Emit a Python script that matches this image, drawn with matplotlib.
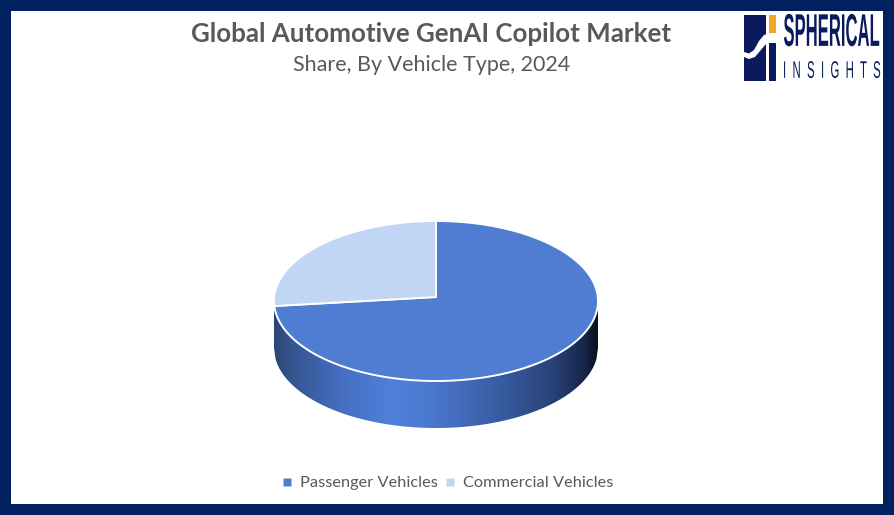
#!/usr/bin/env python
# -*- coding: utf-8 -*-
"""Global Automotive GenAI Copilot Market share, drawn as a tilted 3D style pie"""
import numpy as np
import matplotlib
matplotlib.use('Agg')
import matplotlib.pyplot as plt
import matplotlib.patheffects as pe
from matplotlib.colors import LinearSegmentedColormap
from matplotlib.lines import Line2D
from matplotlib.patches import Polygon, Rectangle
from matplotlib.transforms import Affine2D

TITLE = 'Global Automotive GenAI Copilot Market'
SUBTITLE = 'Share, By Vehicle Type, 2024'
CATEGORIES = ['Passenger Vehicles', 'Commercial Vehicles']
SHARES = [74, 26]
COLOURS = ['#4e7dd2', '#c1d5f5']

NAVY = '#002060'
LOGO = '#0a1a5c'
GREY = '#595959'

# pie geometry in pixels
CX, CY, RX, RY = 436, 301, 162, 80
APEX_Y = 297
DEPTH = 47
HEIGHT = 515


class Stretch(pe.AbstractPathEffect):
    """Stretch a text about a pixel position, for the tall logo lettering"""

    def __init__(self, sy, x0, y0):
        super().__init__()
        self.sy = sy
        self.x0 = x0
        self.y0 = HEIGHT - y0

    def draw_path(self, renderer, gc, tpath, affine, rgbFace=None):
        tall = Affine2D().translate(-self.x0, -self.y0).scale(1, self.sy).translate(self.x0, self.y0)
        renderer.draw_path(gc, tpath, affine + tall, rgbFace)


def rim(t):
    return CX + RX * np.sin(t), CY - RY * np.cos(t)


def draw_pie(ax):
    # side wall, shaded left to right
    xs = np.linspace(CX - RX, CX + RX, 200)
    front = RY * np.sqrt(np.clip(1 - ((xs - CX) / RX) ** 2, 0, 1))
    wall = np.vstack([np.column_stack([xs, CY + front]),
                      np.column_stack([xs[::-1], CY + DEPTH + front[::-1]])])
    shade = LinearSegmentedColormap.from_list('wall', [
        (0.00, '#2b4675'), (0.05, '#35558f'), (0.22, '#4770c4'), (0.36, '#4f80da'),
        (0.48, '#4b79cf'), (0.68, '#3a5ea6'), (0.86, '#2a4478'), (0.96, '#17264a'),
        (1.00, '#0a101e')])
    img = ax.imshow(np.linspace(0, 1, 324).reshape(1, -1), cmap=shade, aspect='auto',
                    extent=(CX - RX, CX + RX, CY + DEPTH + RY, CY), zorder=1)
    img.set_clip_path(Polygon(wall, closed=True, transform=ax.transData))

    # top face
    edges = 2 * np.pi * np.cumsum([0] + SHARES) / sum(SHARES)
    for start, end, colour in zip(edges[:-1], edges[1:], COLOURS):
        t = np.linspace(start, end, 200)
        x, y = rim(t)
        pts = np.vstack([[CX, APEX_Y], np.column_stack([x, y])])
        ax.add_patch(Polygon(pts, closed=True, facecolor=colour, edgecolor='white',
                             linewidth=1.4, joinstyle='round', zorder=2))


def draw_logo(ax):
    ax.add_patch(Rectangle((744, 15), 22, 65.5, facecolor=LOGO, edgecolor='none', zorder=3))
    ax.add_patch(Rectangle((769, 33), 7, 47.5, facecolor=LOGO, edgecolor='none', zorder=3))
    ax.add_patch(Rectangle((769, 15), 7, 18, facecolor='#f5a623', edgecolor='none', zorder=3))
    # swoosh across the blocks
    swoosh = [(744, 52), (749, 53.5), (754, 50), (759, 41), (764, 35), (770, 33), (776, 33),
              (776, 43), (769, 43), (766, 44), (760, 51), (755, 57), (749, 59), (744, 57)]
    ax.add_patch(Polygon(swoosh, closed=True, facecolor='white', edgecolor='none', zorder=4))
    ax.text(831.5, 33.5, 'SPHERICAL', family='Liberation Sans', weight='bold', fontsize=12,
            color=LOGO, ha='center', va='center', zorder=4,
            path_effects=[Stretch(2.75, 831.5, 33.5)])
    ax.text(831.5, 71.5, 'I  N  S  I  G  H  T  S', family='Liberation Sans', fontsize=8.2,
            color=LOGO, ha='center', va='center', zorder=4,
            path_effects=[Stretch(2.1, 831.5, 71.5)])


def main():
    fig = plt.figure(figsize=(8.95, 5.15), dpi=100)
    ax = fig.add_axes([0, 0, 1, 1])

    draw_pie(ax)
    draw_logo(ax)

    ax.text(431.5, 34.5, TITLE, family='Lato', weight='bold', fontsize=18.6, color=GREY,
            ha='center', va='center')
    ax.text(431.5, 65, SUBTITLE, family='Lato', fontsize=15.5, color=GREY,
            ha='center', va='center')

    handles = [Line2D([], [], linestyle='none', marker='s', markersize=6,
                      markerfacecolor=c, markeredgecolor='none') for c in COLOURS]
    ax.legend(handles, CATEGORIES, ncol=2, frameon=False, loc='center',
              bbox_to_anchor=(447, 483), bbox_transform=ax.transData,
              prop={'family': 'Lato', 'size': 11.8}, labelcolor=GREY,
              handlelength=0.8, handletextpad=0.4, columnspacing=0.3)

    # frame
    for x, y, w, h in [(0, 0, 895, 11), (0, 503.5, 895, 11.5), (0, 0, 11, 515), (883, 0, 12, 515)]:
        ax.add_patch(Rectangle((x, y), w, h, facecolor=NAVY, edgecolor='none', zorder=5))

    ax.set_xlim(0, 895)
    ax.set_ylim(515, 0)
    ax.axis('off')
    fig.savefig('out.png', dpi=100)
    plt.close(fig)


if __name__ == '__main__':
    main()
